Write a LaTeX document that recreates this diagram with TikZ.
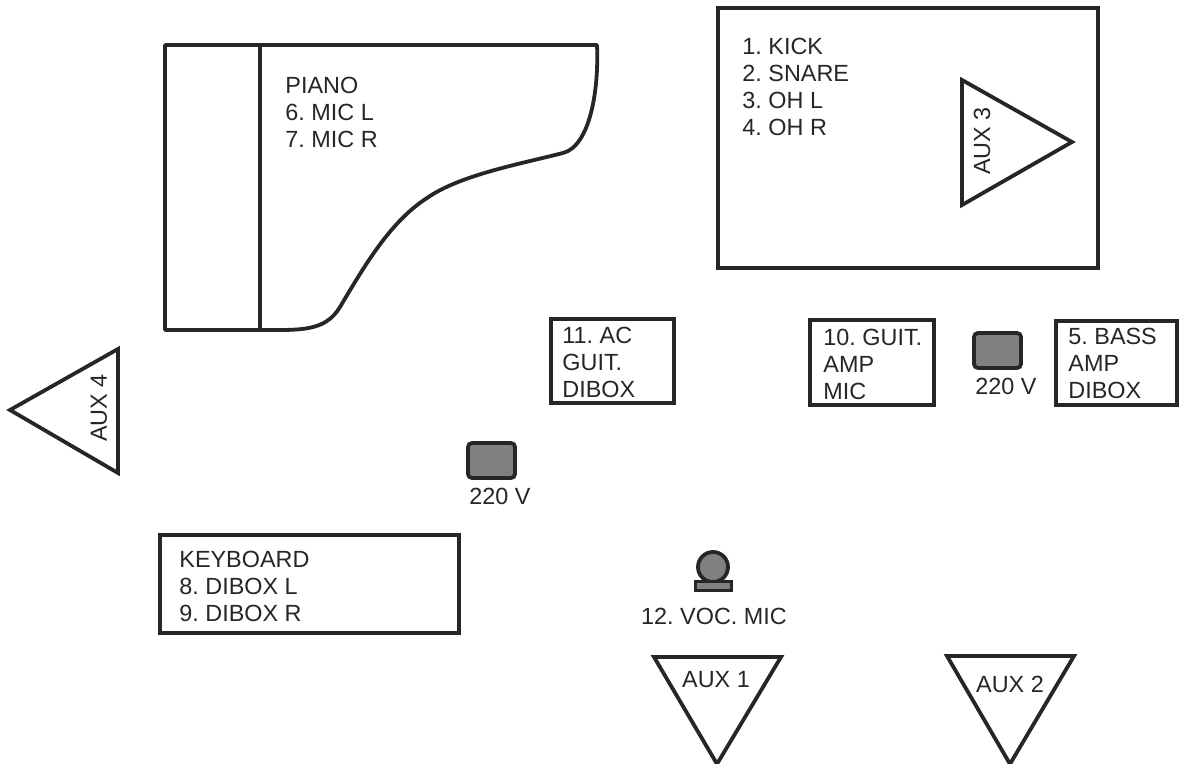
\documentclass[tikz,border=0pt]{standalone}
\usepackage{fontspec}
\setmainfont{Liberation Sans}
\frenchspacing
\tikzset{
  outline/.style={draw=black!85,line width=1.9pt},
  gear/.style={outline,fill=black!50},
  stagetext/.style={anchor=north west,inner sep=0pt,align=left,text=black!85,font=\fontsize{11.7}{13.5}\selectfont},
  auxtext/.style={inner sep=0pt,text=black!85,font=\fontsize{11.7}{13.5}\selectfont},
}
\begin{document}
\begin{tikzpicture}[x=0.5pt,y=-0.5pt]
  \useasboundingbox (0,0) rectangle (1179,764);
  \clip (0,0) rectangle (1179,764);
  % piano
  \draw[outline,line join=round] (165,45)--(597,45) .. controls (599,90) and (590,146) .. (563,153)
    .. controls (520,164) and (460,175) .. (427,198) .. controls (390,222) and (365,265) .. (340,307)
    .. controls (325,332) and (300,330) .. (260,330) -- (165,330) -- cycle;
  \draw[outline] (260,45)--(260,330);
  % boxes
  \foreach \x/\y/\xx/\yy in {718/8/1098/268,160/535/459/633,551/319/674/403,810/320/934/405,1056/321/1177/405} {
    \draw[outline] (\x,\y) rectangle (\xx,\yy);
  }
  % speakers
  \foreach \ax/\ay/\bx/\by/\cx/\cy in {962/80/1072/142/962/205,118/349/10/410/118/473,654/657/781/657/717/764,947/656/1074/656/1010/764} {
    \draw[outline,line join=miter] (\ax,\ay)--(\bx,\by)--(\cx,\cy)--cycle;
  }
  % sockets
  \foreach \x/\y in {974/333,468/443} {
    \draw[gear,rounded corners=2pt] (\x,\y) rectangle ++(47,35);
  }
  % voc mic
  \draw[gear] (713,567) circle (15);
  \draw[gear,line width=1.5pt] (695,582) rectangle (731,591);
  % labels
  \node[stagetext] (pianotext) at (285,77) {PIANO\\6. MIC L\\7. MIC R};
  \node[stagetext] (drumtext) at (742,38) {1. KICK\\2. SNARE\\3. OH L\\4. OH R};
  \node[stagetext] (keytext) at (179,551) {KEYBOARD\\8. DIBOX L\\9. DIBOX R};
  \node[stagetext] (actext) at (562,327) {11. AC\\GUIT.\\DIBOX};
  \node[stagetext] (guittext) at (823,329) {10. GUIT.\\AMP\\MIC};
  \node[stagetext] (basstext) at (1068,328) {5. BASS\\AMP\\DIBOX};
  \node[auxtext] (powerb) at (1006,386) {220 V};
  \node[auxtext] (powera) at (500,496) {220 V};
  \node[auxtext] (vocmic) at (714,616) {12. VOC. MIC};
  \node[auxtext] (auxa) at (716,680) {AUX 1};
  \node[auxtext] (auxb) at (1010,684) {AUX 2};
  \node[auxtext,rotate=90] (auxc) at (982,141) {AUX 3};
  \node[auxtext,rotate=90] (auxd) at (99,408) {AUX 4};
\end{tikzpicture}
\end{document}
